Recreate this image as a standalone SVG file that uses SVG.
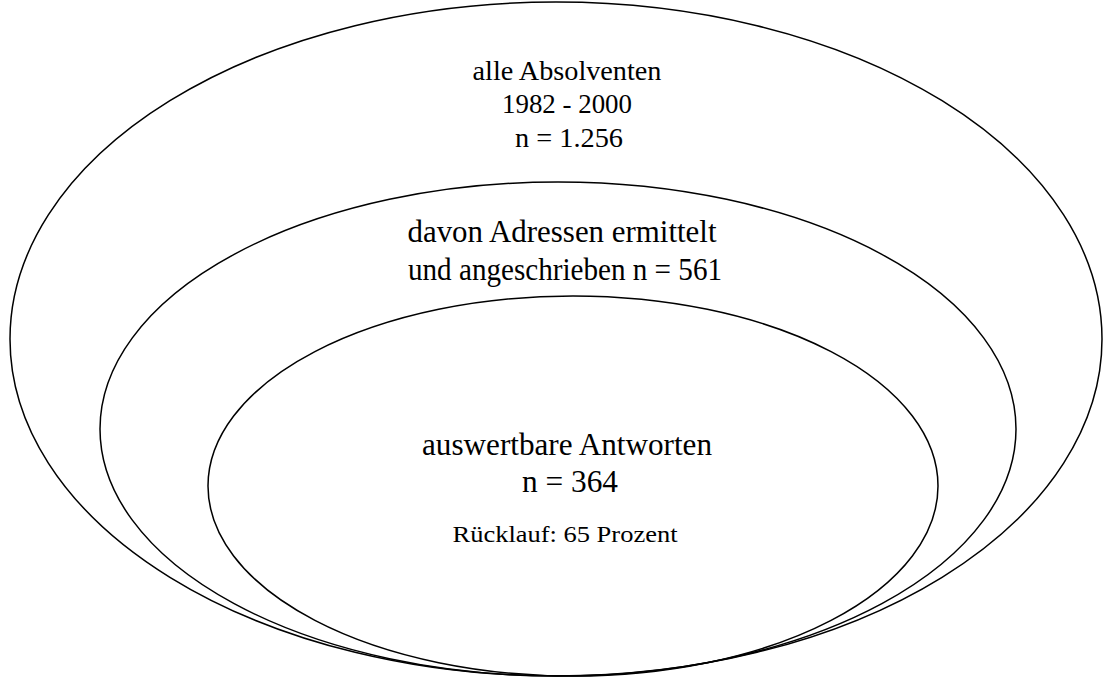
<svg xmlns="http://www.w3.org/2000/svg" width="1104" height="677" viewBox="0 0 1104 677">
<style>
.ring{fill:none;stroke:#000;stroke-width:1.5}
.lbl{font-family:"Liberation Serif","Times New Roman",serif;fill:#000;text-anchor:middle}
.a{font-size:27px}
.b{font-size:31px}
.c{font-size:23px}
</style>
<rect width="1104" height="677" fill="#fff"/>
<g id="outer">
<ellipse class="ring" cx="556" cy="339" rx="546" ry="337"/>
<text class="lbl a" x="567" y="80" textLength="189" lengthAdjust="spacingAndGlyphs">alle Absolventen</text>
<text class="lbl a" x="567" y="113" textLength="130" lengthAdjust="spacingAndGlyphs">1982 - 2000</text>
<text class="lbl a" x="569" y="147" textLength="108" lengthAdjust="spacingAndGlyphs">n = 1.256</text>
</g>
<g id="middle">
<ellipse class="ring" cx="558" cy="429" rx="458" ry="247"/>
<text class="lbl b" x="562" y="242" textLength="309" lengthAdjust="spacingAndGlyphs">davon Adressen ermittelt</text>
<text class="lbl b" x="565" y="280" textLength="314" lengthAdjust="spacingAndGlyphs">und angeschrieben n = 561</text>
</g>
<g id="inner">
<ellipse class="ring" cx="573" cy="486" rx="365" ry="190"/>
<text class="lbl b" x="567" y="455" textLength="290" lengthAdjust="spacingAndGlyphs">auswertbare Antworten</text>
<text class="lbl b" x="570" y="492" textLength="96" lengthAdjust="spacingAndGlyphs">n = 364</text>
<text class="lbl c" x="565" y="542" textLength="225" lengthAdjust="spacingAndGlyphs">Rücklauf: 65 Prozent</text>
</g>
<g id="connectors"/>
</svg>
